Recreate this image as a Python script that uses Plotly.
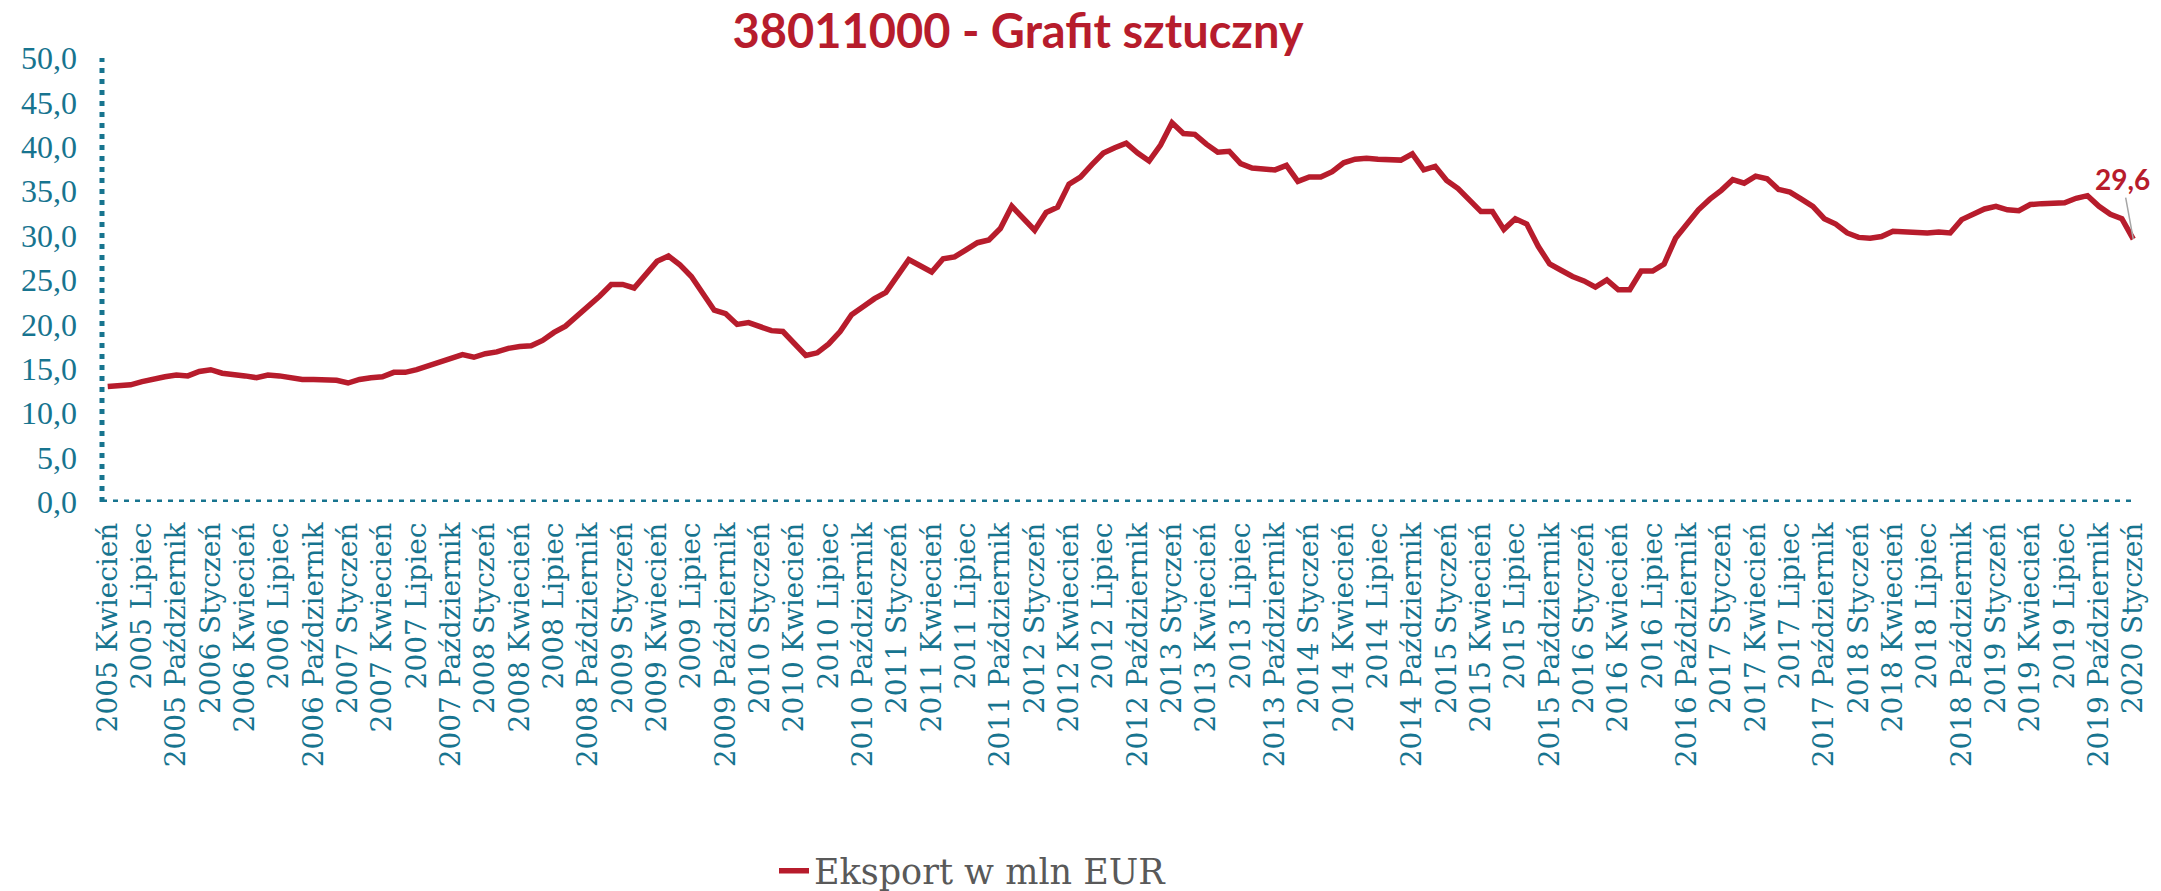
import plotly.graph_objects as go

# ---- data ----
month_names = ["Styczeń", "Luty", "Marzec", "Kwiecień", "Maj", "Czerwiec",
               "Lipiec", "Sierpień", "Wrzesień", "Październik", "Listopad", "Grudzień"]
start_year = 2005
start_month = 4   # Kwiecień 2005
series_name = "Eksport w mln EUR"
title_text = "38011000 - Grafit sztuczny"

export_values = [
    13.0, 13.1, 13.2, 13.55, 13.9, 14.1, 14.3, 14.2, 14.7, 14.9, 14.5, 14.4, 14.2,
    14.0, 14.3, 14.2, 14.0, 13.8, 13.8, 13.7, 13.7, 13.4, 13.8, 14.0, 14.1, 14.6,
    14.6, 14.9, 15.3, 15.8, 16.1, 16.6, 16.3, 16.7, 16.9, 17.3, 17.5, 17.6, 18.2,
    19.1, 19.8, 20.9, 22.0, 23.2, 24.5, 24.5, 24.1, 25.6, 27.1, 27.7, 26.7,
    25.4, 23.5, 21.6, 21.2, 20.0, 20.2, 19.7, 19.3, 19.2, 17.8, 16.5, 16.8, 17.8,
    19.2, 21.1, 22.0, 22.9, 23.6, 25.5, 27.3, 26.6, 25.9, 27.4, 27.6, 28.4,
    29.2, 29.5, 30.8, 33.3, 31.9, 30.6, 32.6, 33.2, 35.8, 36.6, 38.0, 39.3, 39.9,
    40.4, 39.3, 38.4, 40.2, 42.7, 41.5, 41.4, 40.3, 39.4, 39.5, 38.1, 37.6,
    37.5, 37.4, 37.9, 36.1, 36.6, 36.6, 37.2, 38.2, 38.6, 38.7, 38.6, 38.6, 38.5,
    39.2, 37.4, 37.8, 36.2, 35.3, 34.0, 32.7, 32.7, 30.7, 31.9, 31.3, 28.8,
    26.8, 26.1, 25.4, 24.9, 24.2, 25.0, 23.9, 23.9, 26.0, 26.0, 26.8, 29.7, 31.4,
    32.9, 34.1, 35.1, 36.3, 35.9, 36.7, 36.4, 35.2, 34.9, 34.1, 33.3, 31.9, 31.3,
    30.3, 29.8, 29.7, 29.9, 30.5, 30.4, 30.4, 30.3, 30.4, 30.3, 31.8, 32.4, 33.0,
    33.3, 32.9, 32.8, 33.5, 33.6, 33.7, 33.7, 34.2, 34.5, 33.3, 32.4, 31.9, 29.6,
]
last_label = "29,6"

# category labels ("2005 Kwiecień", ...)
categories = []
y, m = start_year, start_month
for _ in export_values:
    categories.append(f"{y} {month_names[m - 1]}")
    m += 1
    if m > 12:
        m = 1
        y += 1
tick_categories = categories[::3]

# ---- styling ----
RED = "#B71C2C"
TEAL = "#17748F"
GRAY = "#595959"

fig = go.Figure()
fig.add_trace(go.Scatter(
    x=categories, y=export_values, mode="lines", name=series_name,
    line=dict(color=RED, width=5.5),
))

# dotted axis lines
fig.add_shape(type="line", xref="paper", yref="y", x0=0, x1=0, y0=0, y1=50,
              line=dict(color=TEAL, width=5, dash="5px,6px"), layer="below")
fig.add_shape(type="line", xref="paper", yref="y", x0=0, x1=0.997, y0=0, y1=0,
              line=dict(color=TEAL, width=5, dash="5px,6px"), layer="below")

# last value label with leader line
fig.add_annotation(
    x=categories[-1], y=export_values[-1], text=f"<b>{last_label}</b>",
    showarrow=True, arrowhead=0, arrowwidth=1.5, arrowcolor="#A6A6A6",
    ax=-11, ay=-60, font=dict(family="Lato", size=28, color=RED),
)

fig.update_layout(
    width=2161, height=891,
    margin=dict(l=102, r=12, t=58, b=389),
    paper_bgcolor="white", plot_bgcolor="white",
    separators=", ",
    title=dict(text=f"<b>{title_text}</b>", x=1018 / 2161, xref="container",
               xanchor="center", y=1 - 32 / 891, yref="container", yanchor="middle",
               font=dict(family="Lato", size=47, color=RED)),
    showlegend=True,
    legend=dict(orientation="h", xref="container", yref="container",
                x=774 / 2161, xanchor="left", y=1 - 871 / 891, yanchor="middle",
                font=dict(family="DejaVu Serif", size=35, color=GRAY),
                bgcolor="rgba(0,0,0,0)"),
    xaxis=dict(type="category", showgrid=False, zeroline=False, showline=False,
               tickmode="array", tickvals=tick_categories, ticktext=tick_categories,
               tickangle=-90, ticks="", ticklabelstandoff=14,
               tickfont=dict(family="DejaVu Serif", size=28, color=TEAL),
               range=[-0.5, len(categories) - 0.5]),
    yaxis=dict(range=[0, 50], dtick=5, tickformat=".1f", showgrid=False,
               zeroline=False, showline=False, ticks="", ticklabelstandoff=24,
               tickfont=dict(family="Liberation Serif", size=32, color=TEAL)),
)

fig.write_html("out.html", config={"displayModeBar": False},
               post_script="document.body.style.margin='0';")
